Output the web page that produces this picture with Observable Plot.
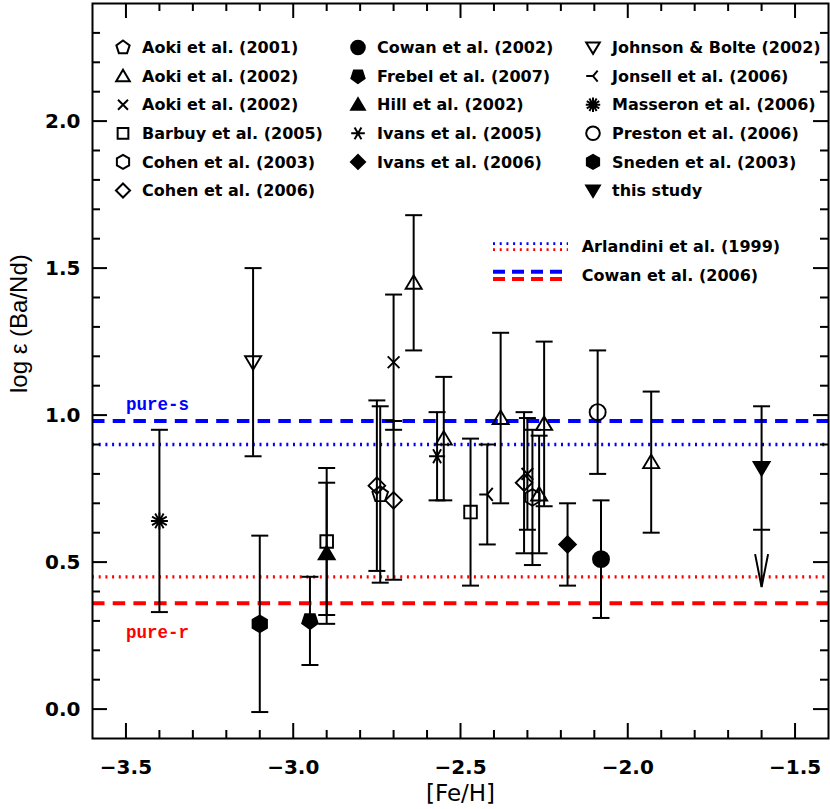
<!DOCTYPE html>
<html><head><meta charset="utf-8">
<script src="https://cdn.jsdelivr.net/npm/d3@7"></script>
<script src="https://cdn.jsdelivr.net/npm/@observablehq/plot@0.6"></script>
<style>
body{margin:0;background:#fff;}
#chart{position:relative;width:830px;height:809px;}
</style>
</head><body><div id="chart"></div>
<script>
// ---------------- data ----------------
const sources = ["Aoki et al. (2001)", "Aoki et al. (2002)", "Aoki et al. (2002)", "Barbuy et al. (2005)",
  "Cohen et al. (2003)", "Cohen et al. (2006)", "Cowan et al. (2002)", "Frebel et al. (2007)",
  "Hill et al. (2002)", "Ivans et al. (2005)", "Ivans et al. (2006)", "Johnson & Bolte (2002)",
  "Jonsell et al. (2006)", "Masseron et al. (2006)", "Preston et al. (2006)", "Sneden et al. (2003)", "this study"];
const sourceShape = ["pentagonUp", "triUp", "times", "square", "hexagon", "diamond", "circle", "pentagonDown",
  "triUp", "ast6", "diamond", "triDown", "jonsell", "ast8", "circle", "hexagon", "triDown"];
const sourceFilled = [false, false, false, false, false, false, true, true,
  true, false, true, false, false, false, false, true, true];

// index into sources for each star
const starSource = [13, 11, 15, 7, 8, 3, 5, 0, 5, 2, 1, 9, 1, 3, 12, 1, 5, 2, 4, 1, 1, 10, 14, 6, 1, 16];
const feH     = [-3.40, -3.12, -3.10, -2.95, -2.90, -2.90, -2.75, -2.74, -2.70, -2.70, -2.64, -2.57, -2.55,
                 -2.47, -2.42, -2.38, -2.31, -2.30, -2.285, -2.265, -2.25, -2.18, -2.09, -2.08, -1.93, -1.60];
const logBaNd = [0.64, 1.18, 0.29, 0.30, 0.53, 0.57, 0.76, 0.73, 0.71, 1.18, 1.45, 0.86, 0.92,
                 0.67, 0.73, 0.99, 0.77, 0.80, 0.72, 0.73, 0.97, 0.56, 1.01, 0.51, 0.84, 0.82];
const errLow  = [0.33, 0.86, -0.01, 0.15, 0.29, 0.32, 0.47, 0.43, 0.44, 0.95, 1.22, 0.71, 0.71,
                 0.42, 0.56, 0.70, 0.53, 0.61, 0.49, 0.53, 0.69, 0.42, 0.80, 0.31, 0.60, 0.61];
const errHigh = [0.95, 1.50, 0.59, 0.45, 0.77, 0.82, 1.05, 1.03, 0.98, 1.41, 1.68, 1.01, 1.13,
                 0.92, 0.90, 1.28, 1.01, 0.99, 0.95, 0.93, 1.25, 0.70, 1.22, 0.71, 1.08, 1.03];
// upper-limit arrow (this study)
const limitStar = [25];
const limitTo = [0.415];

// solar-system decomposition lines
const modelName    = ["Cowan et al. (2006)", "Arlandini et al. (1999)", "Arlandini et al. (1999)", "Cowan et al. (2006)"];
const modelProcess = ["pure-s", "pure-s", "pure-r", "pure-r"];
const modelValue   = [0.98, 0.90, 0.45, 0.36];
const processLabel = ["pure-s", "pure-r"];
const processLabelAt = [0.98, 0.36];
const processLabelFeH = [-3.5, -3.5];

// ticks
const xMajor = [-3.5, -3.0, -2.5, -2.0, -1.5];
const xMinor = [-3.4, -3.3, -3.2, -3.1, -2.9, -2.8, -2.7, -2.6, -2.4, -2.3, -2.2, -2.1, -1.9, -1.8, -1.7, -1.6];
const yMajor = [0.0, 0.5, 1.0, 1.5, 2.0];
const yMinor = [0.1, 0.2, 0.3, 0.4, 0.6, 0.7, 0.8, 0.9, 1.1, 1.2, 1.3, 1.4, 1.6, 1.7, 1.8, 1.9, 2.1, 2.2, 2.3];

// ---------------- symbols ----------------
function sym(fn) { return {draw(c, size) { const k = Math.sqrt(size / Math.PI) / 8; fn(c, k); }}; }
function poly(c, n, R, start) {
  for (let i = 0; i < n; i++) {
    const a = (start + i * 360 / n) * Math.PI / 180;
    const px = R * Math.cos(a), py = R * Math.sin(a);
    if (i === 0) c.moveTo(px, py); else c.lineTo(px, py);
  }
  c.closePath();
}
function spokes(c, L, angles) {
  for (const d of angles) {
    const a = d * Math.PI / 180;
    c.moveTo(-L * Math.cos(a), -L * Math.sin(a));
    c.lineTo(L * Math.cos(a), L * Math.sin(a));
  }
}
const shapes = {
  pentagonUp: sym((c, k) => poly(c, 5, 8.2 * k, -90)),
  pentagonDown: sym((c, k) => poly(c, 5, 8.2 * k, 90)),
  triUp: sym((c, k) => { c.moveTo(0, -7.5 * k); c.lineTo(8 * k, 6 * k); c.lineTo(-8 * k, 6 * k); c.closePath(); }),
  triDown: sym((c, k) => { c.moveTo(0, 7.5 * k); c.lineTo(8 * k, -6 * k); c.lineTo(-8 * k, -6 * k); c.closePath(); }),
  square: sym((c, k) => { c.moveTo(-6.3 * k, -6.3 * k); c.lineTo(6.3 * k, -6.3 * k); c.lineTo(6.3 * k, 6.3 * k); c.lineTo(-6.3 * k, 6.3 * k); c.closePath(); }),
  hexagon: sym((c, k) => poly(c, 6, 8.3 * k, -90)),
  diamond: sym((c, k) => { c.moveTo(0, -8.3 * k); c.lineTo(8.3 * k, 0); c.lineTo(0, 8.3 * k); c.lineTo(-8.3 * k, 0); c.closePath(); }),
  circle: sym((c, k) => { c.moveTo(8 * k, 0); c.arc(0, 0, 8 * k, 0, 2 * Math.PI); c.closePath(); }),
  times: sym((c, k) => spokes(c, 8.3 * k, [45, 135])),
  ast6: sym((c, k) => spokes(c, 8 * k, [0, 60, 120])),
  ast8: sym((c, k) => spokes(c, 8.5 * k, [0, 30, 60, 90, 120, 150])),
  jonsell: sym((c, k) => { c.moveTo(-8 * k, 0); c.lineTo(0, 0); c.moveTo(5.5 * k, -6.5 * k); c.lineTo(0, 0); c.lineTo(5.5 * k, 6.5 * k); }),
  cap: sym((c, k) => { c.moveTo(-8.5 * k, 0); c.lineTo(8.5 * k, 0); }),
  vhead: sym((c, k) => { c.moveTo(-6.5 * k, -33 * k); c.lineTo(0, 0); c.lineTo(6.5 * k, -33 * k); })
};

// ---------------- layout ----------------
const W = 830, H = 809;
const mL = 92, mR = 2, mT = 3, mB = 71;
const plotW = W - mL - mR, plotH = H - mT - mB;
const majorLen = 15, minorLen = 8;
const BLUE = "#0000ff", RED = "#ff0000";
const numFont = "DejaVu Sans";

const stars = feH.map((x, i) => ({x, y: logBaNd[i], lo: errLow[i], hi: errHigh[i], s: starSource[i]}));
const limits = limitStar.map((i, j) => ({x: feH[i], lo: errLow[i], to: limitTo[j]}));
const models = modelValue.map((v, i) => ({v, name: modelName[i], proc: modelProcess[i]}));
const procLabels = processLabel.map((t, i) => ({t, x: processLabelFeH[i], y: processLabelAt[i]}));
const procColor = p => p === "pure-s" ? BLUE : RED;

const tickMarks = [];
for (const [list, len] of [[xMajor, majorLen], [xMinor, minorLen]]) {
  tickMarks.push(Plot.ruleX(list, {x: d => d, insetTop: plotH - len, strokeWidth: 2}));
  tickMarks.push(Plot.ruleX(list, {x: d => d, insetBottom: plotH - len, strokeWidth: 2}));
}
for (const [list, len] of [[yMajor, majorLen], [yMinor, minorLen]]) {
  tickMarks.push(Plot.ruleY(list, {y: d => d, insetRight: plotW - len, strokeWidth: 2}));
  tickMarks.push(Plot.ruleY(list, {y: d => d, insetLeft: plotW - len, strokeWidth: 2}));
}

const chart = Plot.plot({
  width: W, height: H,
  marginLeft: mL, marginRight: mR, marginTop: mT, marginBottom: mB,
  x: {domain: [-3.6, -1.4], label: null},
  y: {domain: [-0.1, 2.4], label: null},
  style: {color: "black", background: "white", overflow: "visible"},
  marks: [
    // model lines
    Plot.ruleY(models.filter(d => d.name.startsWith("Arlandini")), {y: "v", stroke: d => procColor(d.proc), strokeWidth: 3.3, strokeDasharray: "2,4.7"}),
    Plot.ruleY(models.filter(d => d.name.startsWith("Cowan")), {y: "v", stroke: d => procColor(d.proc), strokeWidth: 4, strokeDasharray: "12.5,8.2"}),
    Plot.text(procLabels.filter(d => d.t === "pure-s"), {x: "x", y: "y", text: "t", dy: -17, textAnchor: "start", lineAnchor: "middle",
      fill: BLUE, fontFamily: "Liberation Mono", fontWeight: "bold", fontSize: 17.5}),
    Plot.text(procLabels.filter(d => d.t === "pure-r"), {x: "x", y: "y", text: "t", dy: 29, textAnchor: "start", lineAnchor: "middle",
      fill: RED, fontFamily: "Liberation Mono", fontWeight: "bold", fontSize: 17.5}),
    // error bars
    Plot.ruleX(stars, {x: "x", y1: "lo", y2: "hi", strokeWidth: 2}),
    Plot.dot(stars, {x: "x", y: "lo", symbol: shapes.cap, r: 8, stroke: "black", fill: "none", strokeWidth: 2}),
    Plot.dot(stars, {x: "x", y: "hi", symbol: shapes.cap, r: 8, stroke: "black", fill: "none", strokeWidth: 2}),
    // upper-limit arrow
    Plot.ruleX(limits, {x: "x", y1: "lo", y2: "to", strokeWidth: 2}),
    Plot.dot(limits, {x: "x", y: "to", symbol: shapes.vhead, r: 8, stroke: "black", fill: "none", strokeWidth: 2}),
    // markers
    Plot.dot(stars, {x: "x", y: "y", r: 8,
      symbol: d => shapes[sourceShape[d.s]],
      fill: d => sourceFilled[d.s] ? "black" : "none",
      stroke: "black", strokeWidth: 1.9}),
    // ticks & frame
    ...tickMarks,
    Plot.frame({stroke: "black", strokeWidth: 2}),
    Plot.axisX(xMajor, {tickSize: 0, tickPadding: 21, tickFormat: d3.format(".1f"), label: null,
      fontSize: 20, fontWeight: "bold", fontFamily: numFont}),
    Plot.axisY(yMajor, {tickSize: 0, tickPadding: 12, tickFormat: d3.format(".1f"), label: null,
      fontSize: 20, fontWeight: "bold", fontFamily: numFont}),
    Plot.text(["[Fe/H]"], {text: d => d, frameAnchor: "bottom", dy: 55, lineAnchor: "middle",
      fontSize: 23, fontFamily: "DejaVu Sans"}),
    Plot.text(["log \u03b5 (Ba/Nd)"], {text: d => d, frameAnchor: "left", dx: -73, dy: 22, rotate: -90, lineAnchor: "middle",
      fontSize: 24, fontFamily: "Liberation Sans"})
  ]
});

document.getElementById("chart").appendChild(chart);

// ---------------- legend ----------------
const svg = d3.select(chart);
const lg = svg.append("g").attr("class", "legend").attr("text-anchor", "start");
const colMarkerX = [123, 358, 593];
const textGap = 19;
const rowY0 = 47.5, rowStep = 28.6;
const columns = [[0, 1, 2, 3, 4, 5], [6, 7, 8, 9, 10], [11, 12, 13, 14, 15, 16]];
columns.forEach((col, ci) => {
  col.forEach((si, ri) => {
    const cx = colMarkerX[ci], cy = rowY0 + ri * rowStep;
    lg.append("path")
      .attr("d", d3.symbol().type(shapes[sourceShape[si]]).size(Math.PI * 6.8 * 6.8)())
      .attr("transform", `translate(${cx},${cy})`)
      .attr("fill", sourceFilled[si] ? "black" : "none")
      .attr("stroke", "black").attr("stroke-width", 2);
    lg.append("text").attr("x", cx + textGap).attr("y", cy).attr("dy", "0.36em")
      .attr("text-anchor", "start")
      .attr("font-family", "DejaVu Sans").attr("font-weight", "bold").attr("font-size", 16)
      .text(sources[si]);
  });
});
// line legend
const lineLegend = [
  {name: "Arlandini et al. (1999)", y: 246.7, width: 2.8, dash: "2,4.7", off: 3},
  {name: "Cowan et al. (2006)", y: 275.3, width: 4, dash: "12,7", off: 3.6}
];
lineLegend.forEach(d => {
  [[BLUE, -d.off], [RED, d.off]].forEach(([col, o]) => {
    lg.append("line").attr("x1", 493).attr("x2", 568).attr("y1", d.y + o).attr("y2", d.y + o)
      .attr("stroke", col).attr("stroke-width", d.width).attr("stroke-dasharray", d.dash);
  });
  lg.append("text").attr("x", 581.7).attr("y", d.y).attr("dy", "0.36em")
    .attr("text-anchor", "start")
    .attr("font-family", "DejaVu Sans").attr("font-weight", "bold").attr("font-size", 16)
    .text(d.name);
});
</script></body></html>
